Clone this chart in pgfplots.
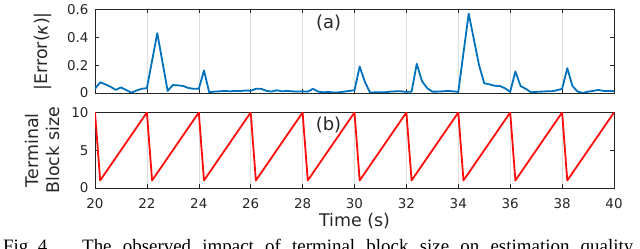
\documentclass[border=0pt]{standalone}
\usepackage{pgfplots}
\pgfplotsset{compat=1.18}
\usepackage{fontspec}
\setmainfont{DejaVu Sans}
\newfontfamily\capfont{Liberation Serif}
\definecolor{mblue}{rgb}{0,0.447,0.741}
\definecolor{mred}{rgb}{1,0.05,0.05}
\definecolor{axgray}{rgb}{0.15,0.15,0.15}
\begin{document}
\begin{tikzpicture}
\path[use as bounding box] (0bp,0bp) rectangle (640bp,249bp);
\pgfplotsset{
  myax/.style={
    scale only axis, width=519bp,
    xmin=20, xmax=40, xtick={20,22,...,40},
    tick align=inside, major tick length=4bp,
    axis line style={axgray, line width=0.6bp},
    every tick/.style={axgray, line width=0.6bp},
    xmajorgrids, grid style={black!13, line width=0.6bp},
    /pgf/number format/assume math mode=true,
    ticklabel style={font=\fontsize{13.5}{15}\selectfont, text=black!85},
    yticklabel style={xshift=-3bp},
    xticklabel style={yshift=-6.5bp},
    label style={font=\fontsize{17.5}{21}\selectfont, text=black!85},
  }
}
\begin{axis}[myax, at={(95bp,156bp)}, anchor=south west, height=83.5bp,
  ymin=0, ymax=0.6, ytick={0,0.2,0.4,0.6}, yticklabels={0,0.2,0.4,0.6},
  xticklabels={},
  ylabel={|Error({\itshape κ})|},
  ylabel style={at={(axis description cs:-0.1002,0.5)}, anchor=center},
]
\addplot[mblue, line width=1.8bp, line join=round] coordinates {
(20.0,0.03) (20.2,0.077) (20.4,0.062) (20.6,0.045) (20.8,0.022) (21.0,0.040)
(21.2,0.022) (21.4,0.002) (21.6,0.018) (21.8,0.030) (22.0,0.035) (22.4,0.43)
(22.8,0.015) (23.0,0.057) (23.2,0.055) (23.4,0.050) (23.6,0.036) (23.8,0.030)
(24.0,0.030) (24.2,0.162) (24.4,0.005) (24.6,0.010) (24.8,0.012) (25.0,0.015)
(25.2,0.012) (25.4,0.015) (25.6,0.014) (25.8,0.018) (26.0,0.016) (26.2,0.030)
(26.4,0.030) (26.6,0.016) (26.8,0.010) (27.0,0.020) (27.2,0.012) (27.4,0.015)
(27.6,0.012) (27.8,0.010) (28.0,0.012) (28.2,0.010) (28.4,0.030) (28.6,0.010)
(28.8,0.005) (29.0,0.008) (29.2,0.003) (29.4,0.005) (29.6,0.010) (29.8,0.015)
(30.0,0.020) (30.2,0.19) (30.4,0.08) (30.6,0.003) (30.8,0.005) (31.0,0.005)
(31.2,0.006) (31.4,0.010) (31.6,0.012) (31.8,0.012) (32.0,0.008) (32.2,0.010)
(32.4,0.21) (32.6,0.085) (32.8,0.035) (33.0,0.010) (33.2,0.010) (33.4,0.012)
(33.6,0.015) (33.8,0.012) (34.0,0.008) (34.4,0.57) (34.8,0.20) (35.0,0.07)
(35.2,0.062) (35.4,0.052) (35.6,0.050) (35.8,0.034) (36.0,0.008) (36.2,0.155)
(36.4,0.050) (36.6,0.030) (36.8,0.005) (37.0,0.008) (37.2,0.010) (37.4,0.012)
(37.6,0.012) (37.8,0.020) (38.0,0.030) (38.2,0.178) (38.4,0.050) (38.6,0.010)
(38.8,0.000) (39.0,0.010) (39.2,0.015) (39.4,0.022) (39.6,0.015) (39.8,0.015)
(40.0,0.015)
};
\node[font=\fontsize{18}{21}\selectfont, text=black!85] at (axis cs:29,0.503) {(a)};
\end{axis}
\begin{axis}[myax, at={(95bp,61bp)}, anchor=south west, height=75.5bp,
  ymin=0, ymax=10, ytick={0,5,10}, yticklabels={0,5,10},
  xticklabels={20,22,24,26,28,30,32,34,36,38,40},
  xlabel={Time (s)},
  xlabel style={at={(axis description cs:0.5,-0.5126)}, anchor=base},
  ylabel={Terminal\\Block size},
  ylabel style={at={(axis description cs:-0.1013,0.5)}, anchor=center, align=center},
]
\addplot[mred, line width=1.8bp, line join=round] coordinates {
(20,10) (20.2,1) (22,10) (22.2,1) (24,10) (24.2,1) (26,10) (26.2,1)
(28,10) (28.2,1) (30,10) (30.2,1) (32,10) (32.2,1) (34,10) (34.2,1)
(36,10) (36.2,1) (38,10) (38.2,1) (40,10)
};
\node[font=\fontsize{18}{21}\selectfont, text=black!85] at (axis cs:29,8.3) {(b)};
\end{axis}
\node[anchor=base west, inner sep=0, font=\capfont\fontsize{19}{22}\selectfont] at (3bp,-3.5bp) {Fig.~4.};
\node[anchor=base west, inner sep=0, font=\capfont\fontsize{19}{22}\selectfont] at (82bp,-3.5bp)
  {\makebox[551bp][s]{The observed impact of terminal block size on estimation quality}};
\end{tikzpicture}
\end{document}
